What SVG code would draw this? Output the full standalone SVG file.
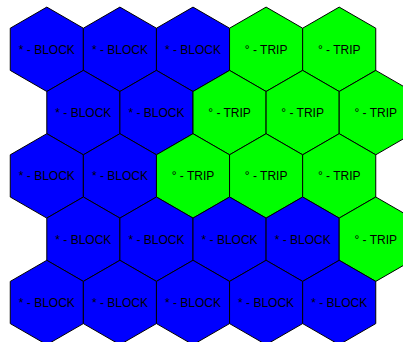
<svg xmlns="http://www.w3.org/2000/svg" xmlns:xlink="http://www.w3.org/1999/xlink" width="403" height="342" viewBox="0 0 403 342">
<style>
.block{fill:#0000ff;stroke:#000;stroke-width:1}
.trip{fill:#00ff00;stroke:#000;stroke-width:1}
text{font-family:"Liberation Sans",Arial,sans-serif;font-size:12px;fill:#000;text-anchor:middle}
</style>
<defs>
<polygon id="hex" points="0,-42.2 36.55,-21.1 36.55,21.1 0,42.2 -36.55,21.1 -36.55,-21.1"/>
</defs>
<rect width="403" height="342" fill="#fff"/>
<g id="nodes">
<g id="r0c0" transform="translate(46.8,49.3)"><use href="#hex" class="block"/><text y="4.5">* - BLOCK</text></g>
<g id="r0c1" transform="translate(119.9,49.3)"><use href="#hex" class="block"/><text y="4.5">* - BLOCK</text></g>
<g id="r0c2" transform="translate(193,49.3)"><use href="#hex" class="block"/><text y="4.5">* - BLOCK</text></g>
<g id="r0c3" transform="translate(266.1,49.3)"><use href="#hex" class="trip"/><text y="4.5">° - TRIP</text></g>
<g id="r0c4" transform="translate(339.2,49.3)"><use href="#hex" class="trip"/><text y="4.5">° - TRIP</text></g>

<g id="r1c0" transform="translate(83.35,112.6)"><use href="#hex" class="block"/><text y="4.5">* - BLOCK</text></g>
<g id="r1c1" transform="translate(156.45,112.6)"><use href="#hex" class="block"/><text y="4.5">* - BLOCK</text></g>
<g id="r1c2" transform="translate(229.55,112.6)"><use href="#hex" class="trip"/><text y="4.5">° - TRIP</text></g>
<g id="r1c3" transform="translate(302.65,112.6)"><use href="#hex" class="trip"/><text y="4.5">° - TRIP</text></g>
<g id="r1c4" transform="translate(375.75,112.6)"><use href="#hex" class="trip"/><text y="4.5">° - TRIP</text></g>

<g id="r2c0" transform="translate(46.8,175.9)"><use href="#hex" class="block"/><text y="4.5">* - BLOCK</text></g>
<g id="r2c1" transform="translate(119.9,175.9)"><use href="#hex" class="block"/><text y="4.5">* - BLOCK</text></g>
<g id="r2c2" transform="translate(193,175.9)"><use href="#hex" class="trip"/><text y="4.5">° - TRIP</text></g>
<g id="r2c3" transform="translate(266.1,175.9)"><use href="#hex" class="trip"/><text y="4.5">° - TRIP</text></g>
<g id="r2c4" transform="translate(339.2,175.9)"><use href="#hex" class="trip"/><text y="4.5">° - TRIP</text></g>

<g id="r3c0" transform="translate(83.35,239.2)"><use href="#hex" class="block"/><text y="4.5">* - BLOCK</text></g>
<g id="r3c1" transform="translate(156.45,239.2)"><use href="#hex" class="block"/><text y="4.5">* - BLOCK</text></g>
<g id="r3c2" transform="translate(229.55,239.2)"><use href="#hex" class="block"/><text y="4.5">* - BLOCK</text></g>
<g id="r3c3" transform="translate(302.65,239.2)"><use href="#hex" class="block"/><text y="4.5">* - BLOCK</text></g>
<g id="r3c4" transform="translate(375.75,239.2)"><use href="#hex" class="trip"/><text y="4.5">° - TRIP</text></g>

<g id="r4c0" transform="translate(46.8,302.5)"><use href="#hex" class="block"/><text y="4.5">* - BLOCK</text></g>
<g id="r4c1" transform="translate(119.9,302.5)"><use href="#hex" class="block"/><text y="4.5">* - BLOCK</text></g>
<g id="r4c2" transform="translate(193,302.5)"><use href="#hex" class="block"/><text y="4.5">* - BLOCK</text></g>
<g id="r4c3" transform="translate(266.1,302.5)"><use href="#hex" class="block"/><text y="4.5">* - BLOCK</text></g>
<g id="r4c4" transform="translate(339.2,302.5)"><use href="#hex" class="block"/><text y="4.5">* - BLOCK</text></g>
</g>
<g id="connectors"></g>
</svg>
